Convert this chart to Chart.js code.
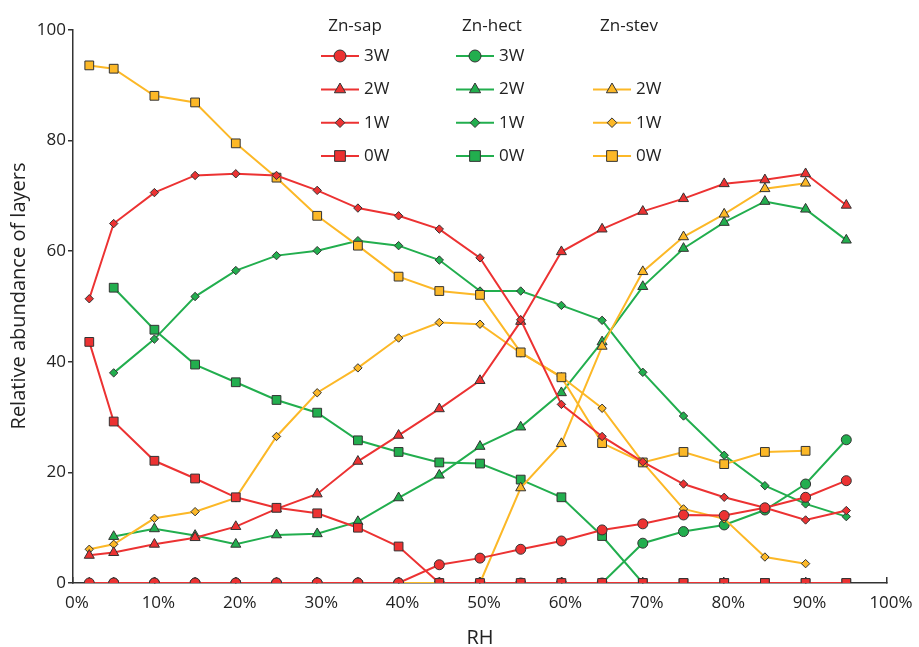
<!DOCTYPE html>
<html>
<head>
<meta charset="utf-8">
<script src="https://cdn.jsdelivr.net/npm/chart.js@4.4.0/dist/chart.umd.min.js"></script>
<style>
  body { margin: 0; background: #fff; }
  #wrap { width: 919px; height: 647px; }
</style>
</head>
<body>
<div id="wrap"><canvas id="chart" width="919" height="647"></canvas></div>
<script>
// RH (%) of each measurement
const rh = [2, 5, 10, 15, 20, 25, 30, 35, 40, 45, 50, 55, 60, 65, 70, 75, 80, 85, 90, 95];

// Zn-sap
const sap3W = [0, 0, 0, 0, 0, 0, 0, 0, 0, 3.3, 4.5, 6.1, 7.6, 9.6, 10.7, 12.3, 12.2, 13.6, 15.5, 18.5];
const sap2W = [5.0, 5.5, 7.0, 8.2, 10.2, 13.4, 16.1, 22.0, 26.7, 31.5, 36.6, 47.3, 59.9, 64.0, 67.2, 69.5, 72.2, 72.9, 74.0, 68.3];
const sap1W = [51.4, 65.0, 70.6, 73.7, 74.0, 73.7, 71.0, 67.8, 66.4, 64.0, 58.8, 47.6, 32.3, 26.5, 21.9, 17.9, 15.5, 13.6, 11.4, 13.1];
const sap0W = [43.6, 29.2, 22.1, 18.9, 15.5, 13.6, 12.6, 10.0, 6.6, 0, 0, 0, 0, 0, 0, 0, 0, 0, 0, 0];

// Zn-hect
const hect3W = [null, 0, 0, 0, 0, 0, 0, 0, 0, 0, 0, 0, 0, 0, 7.2, 9.3, 10.5, 13.2, 17.9, 25.9];
const hect2W = [null, 8.4, 9.8, 8.6, 7.0, 8.7, 8.9, 11.1, 15.4, 19.5, 24.7, 28.2, 34.4, 43.6, 53.6, 60.5, 65.2, 69.0, 67.6, 62.0];
const hect1W = [null, 38.0, 44.1, 51.8, 56.5, 59.2, 60.1, 61.9, 61.0, 58.4, 52.8, 52.8, 50.2, 47.5, 38.1, 30.2, 23.1, 17.6, 14.3, 12.0];
const hect0W = [null, 53.4, 45.8, 39.5, 36.3, 33.1, 30.8, 25.8, 23.7, 21.8, 21.6, 18.7, 15.5, 8.5, 0, 0, 0, 0, 0, 0];

// Zn-stev
const stev2W = [0, 0, 0, 0, 0, 0, 0, 0, 0, 0, 0, 17.2, 25.2, 42.8, 56.3, 62.6, 66.7, 71.3, 72.3, null];
const stev1W = [6.1, 7.0, 11.7, 12.9, 15.4, 26.5, 34.4, 38.9, 44.3, 47.1, 46.8, 41.6, 37.3, 31.6, 21.8, 13.4, 11.6, 4.7, 3.5, null];
const stev0W = [93.6, 93.0, 88.1, 86.9, 79.5, 73.3, 66.4, 61.0, 55.4, 52.8, 52.1, 41.7, 37.2, 25.3, 21.8, 23.7, 21.5, 23.7, 23.9, null];

const groups = ["Zn-sap", "Zn-hect", "Zn-stev"];
const layerLabels = ["3W", "2W", "1W", "0W"];
const yTitle = "Relative abundance of layers";

const RED = "#ec3232";
const GREEN = "#22ae4e";
const YELLOW = "#fcb827";
const EDGE = "#333333";
const FONT = "'Open Sans', 'Noto Sans', sans-serif";

// marker style per layer: [pointStyle, radius in plot, radius in legend]
const markers = {
    "3W": ["circle", 5, 6],
    "2W": ["triangle", 5.8, 6.5],
    "1W": ["rectRot", 4.2, 4.8],
    "0W": ["rect", 6.2, 7.6]
};

function makeSet(group, layer, color, values) {
    var m = markers[layer];
    var pts = [];
    for (var i = 0; i < rh.length; i++) {
        if (values[i] !== null) pts.push({ x: rh[i], y: values[i] });
    }
    return {
        label: group + " " + layer,
        group: group,
        layer: layer,
        data: pts,
        borderColor: color,
        backgroundColor: color,
        borderWidth: 2,
        pointStyle: m[0],
        pointRadius: m[1],
        pointHoverRadius: m[1],
        pointBorderColor: EDGE,
        pointBorderWidth: 1,
        pointBackgroundColor: color,
        tension: 0,
        fill: false
    };
}

// dataset 0 is drawn on top
const datasets = [
    makeSet("Zn-sap", "0W", RED, sap0W),
    makeSet("Zn-sap", "3W", RED, sap3W),
    makeSet("Zn-sap", "1W", RED, sap1W),
    makeSet("Zn-sap", "2W", RED, sap2W),
    makeSet("Zn-stev", "0W", YELLOW, stev0W),
    makeSet("Zn-stev", "1W", YELLOW, stev1W),
    makeSet("Zn-stev", "2W", YELLOW, stev2W),
    makeSet("Zn-hect", "0W", GREEN, hect0W),
    makeSet("Zn-hect", "3W", GREEN, hect3W),
    makeSet("Zn-hect", "1W", GREEN, hect1W),
    makeSet("Zn-hect", "2W", GREEN, hect2W)
];

// three-column legend with group headers, plus the y title
const gridLegend = {
    id: "gridLegend",
    afterDraw: function (chart) {
        var ctx = chart.ctx;
        var colX = [321, 456, 593];
        var headerX = [355, 492, 629];
        var rowY = [56, 89.5, 122.7, 156];
        ctx.save();
        ctx.font = "17px " + FONT;
        ctx.fillStyle = "#222";
        ctx.textAlign = "center";
        ctx.textBaseline = "middle";
        groups.forEach(function (g, gi) {
            ctx.fillText(g, headerX[gi], 26);
        });
        chart.data.datasets.forEach(function (ds) {
            var gi = groups.indexOf(ds.group);
            var ri = layerLabels.indexOf(ds.layer);
            var x0 = colX[gi], y = rowY[ri];
            ctx.strokeStyle = ds.borderColor;
            ctx.lineWidth = 2;
            ctx.beginPath();
            ctx.moveTo(x0, y);
            ctx.lineTo(x0 + 38, y);
            ctx.stroke();
            var m = markers[ds.layer];
            ctx.fillStyle = ds.backgroundColor;
            ctx.strokeStyle = EDGE;
            ctx.lineWidth = 1;
            Chart.helpers.drawPoint(ctx, { pointStyle: m[0], radius: m[2], rotation: 0, borderWidth: 1 }, x0 + 19, y);
            ctx.fillStyle = "#222";
            ctx.textAlign = "left";
            ctx.fillText(ds.layer, x0 + 43, y);
        });

        // y axis title
        ctx.translate(19, 296);
        ctx.rotate(-Math.PI / 2);
        ctx.font = "20px " + FONT;
        ctx.textAlign = "center";
        ctx.fillText(yTitle, 0, 0);
        ctx.restore();
    }
};

Chart.defaults.font.family = FONT;
Chart.defaults.color = "#222";

new Chart(document.getElementById("chart"), {
    type: "line",
    data: { datasets: datasets },
    options: {
        responsive: false,
        animation: false,
        events: [],
        layout: { padding: { left: 0, top: 30, right: 32, bottom: 0 } },
        plugins: {
            legend: { display: false },
            tooltip: { enabled: false }
        },
        scales: {
            x: {
                type: "linear",
                min: 0,
                max: 100,
                afterFit: function (scale) {
                    scale.height = 64;
                    scale.paddingLeft = 0;
                    scale.paddingRight = 0;
                },
                ticks: {
                    stepSize: 10,
                    padding: 16,
                    labelOffset: 4,
                    font: { size: 17 },
                    color: "#222",
                    maxRotation: 0,
                    callback: function (v) { return v + "%"; }
                },
                grid: { drawOnChartArea: false, drawTicks: true, tickLength: -6, color: EDGE, lineWidth: 1.5 },
                border: { display: true, color: EDGE, width: 1.5 },
                title: {
                    display: true,
                    text: "RH",
                    font: { size: 20, lineHeight: 1 },
                    color: "#222",
                    padding: { top: 0, bottom: -1 }
                }
            },
            y: {
                min: 0,
                max: 100,
                afterFit: function (scale) { scale.width = 73; },
                ticks: {
                    stepSize: 20,
                    padding: 2,
                    font: { size: 17 },
                    color: "#222"
                },
                grid: { drawOnChartArea: false, drawTicks: true, tickLength: 5, color: EDGE, lineWidth: 1.5 },
                border: { display: true, color: EDGE, width: 1.5 }
            }
        }
    },
    plugins: [gridLegend]
});
</script>
</body>
</html>
